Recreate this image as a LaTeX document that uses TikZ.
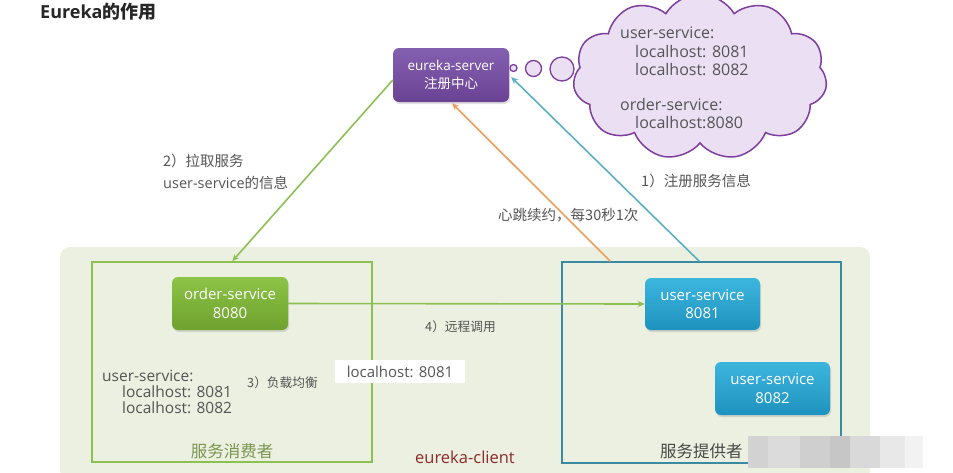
\documentclass[tikz,border=0pt]{standalone}
\usepackage{fontspec}
\setmainfont{Open Sans}
\newfontfamily\cjk{Noto Sans CJK SC}
\newcommand\zh[1]{{\cjk #1}}
\usetikzlibrary{shapes.symbols,arrows.meta,shadows,calc}
\definecolor{purpA}{HTML}{8460B0}
\definecolor{purpB}{HTML}{6A4294}
\definecolor{grnA}{HTML}{8DC446}
\definecolor{grnB}{HTML}{6EA12E}
\definecolor{bluA}{HTML}{3DB6DE}
\definecolor{bluB}{HTML}{1E92BE}
\definecolor{cloudfill}{HTML}{EADFF3}
\definecolor{cloudline}{HTML}{7E3E9E}
\definecolor{lgreen}{HTML}{8DBF55}
\definecolor{lorange}{HTML}{EE9D5E}
\definecolor{lblue}{HTML}{5AAFC4}
\definecolor{bgfill}{HTML}{EBF0E1}
\definecolor{consline}{HTML}{8CC152}
\definecolor{provline}{HTML}{3B8AA3}
\definecolor{txtgray}{HTML}{555555}
\definecolor{clientred}{HTML}{8B2C2C}
\definecolor{consgreen}{HTML}{7A9650}
\begin{document}
\begin{tikzpicture}[x=1pt,y=-1pt]
\tikzset{
  svc/.style={rounded corners=6pt, text=white, align=center, inner sep=0pt,
    drop shadow={opacity=0.25,shadow xshift=1pt,shadow yshift=-2pt}},
  lbl/.style={text=txtgray, font=\cjk\fontsize{14.5}{16}\selectfont, anchor=west, inner sep=0pt},
  cldtxt/.style={text=txtgray, font=\fontsize{16}{18}\selectfont, anchor=west, inner sep=0pt},
  conn/.style={line width=1.6pt, -{Stealth[length=7pt,width=6pt]}},
}
\useasboundingbox (0,0) rectangle (953,472);
\fill[white] (0,0) rectangle (953,472);
% title
\node[anchor=west, inner sep=0pt, text=black!85, font=\bfseries\fontsize{18}{20}\selectfont] (title) at (40,12) {Eureka\zh{的作用}};
% background client area
\fill[bgfill, rounded corners=10pt] (60,247) rectangle (870,480);
% consumer / provider boxes
\node[draw=consline, line width=1.5pt, minimum width=280pt, minimum height=200pt, inner sep=0pt] (cons) at (232,362) {};
\node[draw=provline, line width=1.5pt, minimum width=279pt, minimum height=201pt, inner sep=0pt] (prov) at (701.5,362.5) {};
% eureka server
\node[svc, top color=purpA, bottom color=purpB, minimum width=116pt, minimum height=54pt,
  font=\fontsize{13.5}{18}\selectfont] (es) at (451,75) {eureka-server\\\zh{注册中心}};
% cloud
\node[cloud, cloud puffs=11, cloud puff arc=120, aspect=1.7, draw=cloudline, fill=cloudfill,
  line width=1.5pt, minimum width=254pt, minimum height=166pt, inner sep=0pt] (cld) at (700,77) {};
\node[draw=cloudline, fill=cloudfill, line width=1.3pt, circle, minimum size=7pt, inner sep=0pt] (c1) at (513.5,68) {};
\node[draw=cloudline, fill=cloudfill, line width=1.3pt, circle, minimum size=16pt, inner sep=0pt] (c2) at (533.5,68.5) {};
\node[draw=cloudline, fill=cloudfill, line width=1.3pt, circle, minimum size=24pt, inner sep=0pt] (c3) at (562,69) {};
\node[cldtxt] (t1) at (620,33) {user-service:};
\node[cldtxt] (t2) at (635,52) {localhost: 8081};
\node[cldtxt] (t3) at (635,70) {localhost: 8082};
\node[cldtxt] (t4) at (620,105) {order-service:};
\node[cldtxt] (t5) at (635,123) {localhost:8080};
% service nodes
\node[svc, top color=grnA, bottom color=grnB, minimum width=116pt, minimum height=53pt,
  font=\fontsize{15}{18.5}\selectfont] (os) at (230,303.5) {order-service\\8080};
\node[svc, top color=bluA, bottom color=bluB, minimum width=115pt, minimum height=52pt,
  font=\fontsize{15}{18.5}\selectfont] (us1) at (702.5,304) {user-service\\8081};
\node[svc, top color=bluA, bottom color=bluB, minimum width=115pt, minimum height=53pt,
  font=\fontsize{15}{18.5}\selectfont] (us2) at (772.5,388.5) {user-service\\8082};
% connector end points
\coordinate (gtop) at ($(es.west)+(0,5)$);
\coordinate (gbot) at ($(cons.north west)+(141,0)$);
\coordinate (obot) at ($(prov.north west)+(49,0)$);
\coordinate (otop) at ($(es.south)+(1,1)$);
\coordinate (bbot) at ($(prov.north west)+(138,0)$);
\coordinate (btop) at ($(es.east)+(2,2)$);
\draw[conn, lgreen] (gtop) -- (gbot);
\draw[conn, lorange] (obot) -- (otop);
\draw[conn, lblue] (bbot) -- (btop);
\draw[conn, consline] (os.east) -- (us1.west);
% labels
\node[lbl] (l2a) at (163,161) {2）拉取服务};
\node[lbl] (l2b) at (163,183) {{\rmfamily user-service}的信息};
\node[lbl] (l1) at (641,181) {1）注册服务信息};
\node[lbl] (lh) at (498,215) {心跳续约，每30秒1次};
\node[lbl, font=\cjk\fontsize{12.7}{14}\selectfont] (l4) at (425,327) {4）远程调用};
\node[lbl, font=\cjk\fontsize{12.7}{14}\selectfont] (l3) at (247,383) {3）负载均衡};
\node[fill=white, minimum width=130pt, minimum height=23pt, inner sep=0pt,
  text=txtgray, font=\fontsize{15}{17}\selectfont] (lh81) at (400,371.5) {localhost: 8081};
\node[cldtxt, font=\fontsize{15.5}{17}\selectfont] (u1) at (102,376) {user-service:};
\node[cldtxt, font=\fontsize{15.5}{17}\selectfont] (u2) at (122,392) {localhost: 8081};
\node[cldtxt, font=\fontsize{15.5}{17}\selectfont] (u3) at (122,408) {localhost: 8082};
\node[text=consgreen, font=\cjk\fontsize{16.5}{18}\selectfont, inner sep=0pt] (consl) at (232,451) {服务消费者};
\node[text=txtgray!85!black, font=\cjk\fontsize{16.5}{18}\selectfont, inner sep=0pt, anchor=west] (provl) at (660,451) {服务提供者};
\node[text=clientred, font=\fontsize{16.5}{18}\selectfont, inner sep=0pt] (cl) at (465,457) {eureka-client};
% mosaic watermark
\fill[gray!35] (748,436) rectangle (768,468);
\fill[gray!28] (768,436) rectangle (800,468);
\fill[gray!38] (800,436) rectangle (830,468);
\fill[gray!45] (830,436) rectangle (850,468);
\fill[gray!30] (850,436) rectangle (880,468);
\fill[gray!18] (880,436) rectangle (905,468);
\fill[gray!10] (905,436) rectangle (923,468);
\end{tikzpicture}
\end{document}
